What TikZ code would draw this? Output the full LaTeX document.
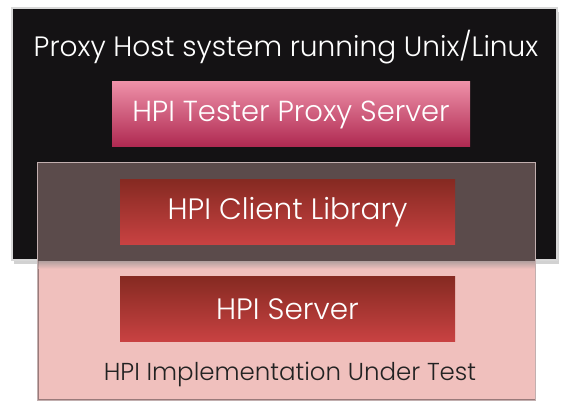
\documentclass[tikz,border=0pt]{standalone}
\usepackage{fontspec}
\setmainfont{Poppins}[UprightFont=* Light]
\usetikzlibrary{shadows}
\definecolor{hostblack}{HTML}{141214}
\definecolor{hostrim}{HTML}{D8D8D8}
\definecolor{implpink}{HTML}{F0C0BD}
\definecolor{implrim}{HTML}{9A7A7A}
\definecolor{overlapgrey}{HTML}{5B4B4B}
\definecolor{proxytop}{HTML}{EE90A8}
\definecolor{proxybot}{HTML}{AE2850}
\definecolor{redtop}{HTML}{862A22}
\definecolor{redbot}{HTML}{C94242}
\definecolor{darktext}{HTML}{222222}
\tikzset{
  hostbox/.style={draw=hostrim, line width=1.5pt, fill=hostblack, inner sep=0pt,
    drop shadow={opacity=0.35, shadow xshift=2pt, shadow yshift=-4pt}},
  implbox/.style={draw=implrim, line width=1pt, fill=implpink, inner sep=0pt},
  proxybox/.style={inner sep=0pt, top color=proxytop, bottom color=proxybot,
    text=white, font=\fontsize{29}{32}\selectfont},
  redbox/.style={inner sep=0pt, top color=redtop, bottom color=redbot,
    text=white, font=\fontsize{29.5}{32}\selectfont},
  titletext/.style={text=white, font=\fontsize{28}{30}\selectfont, inner sep=0pt},
  undertext/.style={text=darktext, font=\fontsize{24.5}{28}\selectfont, inner sep=0pt}
}
\begin{document}
\begin{tikzpicture}[x=1pt,y=-1pt]
\useasboundingbox[fill=white] (0,0) rectangle (568,403);
% proxy host system
\node[hostbox, minimum width=545pt, minimum height=252pt] (host) at (284.5,134) {};
% implementation under test
\node[implbox, minimum width=497pt, minimum height=237pt] (impl) at (286.5,281.5) {};
\fill[overlapgrey] (impl.north west) rectangle (impl.east |- host.south);
\shade[top color=black!45, bottom color=implpink, opacity=0.6]
  ([yshift=-0.5pt]impl.west |- host.south) rectangle ([yshift=-8pt]impl.east |- host.south);
\draw[implrim!60!white, line width=1pt] (impl.north west) rectangle (impl.south east);
% texts and inner boxes
\node[titletext] (hosttitle) at (286,47) {Proxy Host system running Unix/Linux};
\node[proxybox, minimum width=358pt, minimum height=65pt] (proxy) at (291,114.5) {HPI Tester Proxy Server};
\node[redbox, minimum width=335pt, minimum height=65pt] (client) at (287.5,212.5) {HPI Client Library};
\node[redbox, minimum width=335pt, minimum height=65pt] (server) at (287.5,309.5) {HPI Server};
\node[undertext] (impltitle) at (290,374) {HPI Implementation Under Test};
\end{tikzpicture}
\end{document}
